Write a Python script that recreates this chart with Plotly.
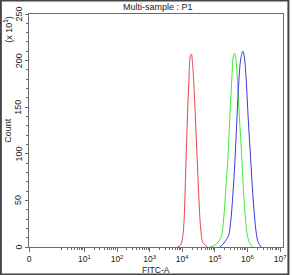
import math
import plotly.graph_objects as go

# x positions in log10(FITC-A) units; counts in units of 10
red_log10 = [3.85, 3.95, 4.00, 4.05, 4.10, 4.15, 4.20, 4.25, 4.28, 4.32, 4.37, 4.42, 4.47, 4.52, 4.57, 4.62, 4.70, 4.78]
red_count = [0, 2, 8, 25, 75, 130, 175, 205, 207, 195, 165, 125, 85, 45, 18, 6, 2, 0]

green_log10 = [4.85, 5.00, 5.10, 5.20, 5.27, 5.33, 5.40, 5.46, 5.52, 5.57, 5.61, 5.65, 5.70, 5.76, 5.82, 5.88, 5.94, 6.00, 6.07, 6.15]
green_count = [0, 2, 5, 12, 30, 60, 95, 140, 180, 205, 208, 200, 175, 135, 100, 60, 30, 12, 4, 0]

blue_log10 = [5.15, 5.25, 5.35, 5.42, 5.48, 5.55, 5.62, 5.68, 5.74, 5.80, 5.86, 5.90, 5.96, 6.02, 6.08, 6.14, 6.20, 6.27, 6.33, 6.42]
blue_count = [0, 3, 8, 12, 25, 55, 95, 140, 180, 203, 210, 205, 180, 140, 105, 70, 40, 15, 5, 0]

x_tick_pos = [-0.70, 1, 2, 3, 4, 5, 6, 7]
x_tick_text = ["0", "10<sup>1</sup>", "10<sup>2</sup>", "10<sup>3</sup>", "10<sup>4</sup>",
               "10<sup>5</sup>", "10<sup>6</sup>", "10<sup>7</sup>"]
y_tick_vals = [0, 50, 100, 150, 200, 250]
y_tick_text = ["0", "50", "100", "150", "200", "250"]

minor_x = []
for dec in range(0, 7):
    for m in range(2, 10):
        v = dec + math.log10(m)
        if v > -0.05:
            minor_x.append(v)

PW, PH = 257, 233  # plot area size in px

fig = go.Figure()
for xs, ys, col in [(red_log10, red_count, "#e4484c"),
                    (green_log10, green_count, "#3ee83a"),
                    (blue_log10, blue_count, "#3a3ad8")]:
    fig.add_trace(go.Scatter(x=xs, y=ys, mode="lines", line=dict(color=col, width=1, shape="spline"),
                             showlegend=False, hoverinfo="skip", cliponaxis=True))

axis_col = "#6a6a6a"
annotations = [dict(text="(x 10<sup>1</sup>)", xref="paper", yref="paper", x=-22 / PW, y=1.0,
                    xanchor="center", yanchor="top", textangle=-90, showarrow=False,
                    font=dict(size=9, color="#222")),
               dict(text="Count", xref="paper", yref="paper", x=-22 / PW, y=0.5,
                    xanchor="center", yanchor="middle", textangle=-90, showarrow=False,
                    font=dict(size=9, color="#222")),
               dict(text="FITC-A", xref="paper", yref="paper", x=0.5, y=-23 / PH,
                    xanchor="center", yanchor="middle", showarrow=False,
                    font=dict(size=8.5, color="#222"))]
for v, t in zip(y_tick_vals, y_tick_text):
    annotations.append(dict(text=t, xref="paper", yref="y", x=-10.5 / PW, y=v,
                            xanchor="center", yanchor="middle", textangle=-90, showarrow=False,
                            font=dict(size=9, color="#222")))

fig.update_layout(
    width=292, height=275,
    margin=dict(l=29, r=6, t=14, b=28),
    paper_bgcolor="white", plot_bgcolor="white",
    font=dict(family="Liberation Sans, Arial, sans-serif", size=9, color="#222"),
    title=dict(text="Multi-sample : P1", x=0.54, xanchor="center", y=0.985, yanchor="top",
               font=dict(size=9, color="#222")),
    xaxis=dict(range=[-0.70, 7.09], tickmode="array", tickvals=x_tick_pos, ticktext=x_tick_text,
               ticks="outside", ticklen=4, tickcolor=axis_col, showgrid=False, zeroline=False,
               showline=True, linecolor=axis_col, linewidth=1, mirror=True, ticklabelstandoff=0,
               minor=dict(tickmode="array", tickvals=minor_x, ticks="outside", ticklen=2, tickcolor=axis_col),
               tickfont=dict(size=8.5)),
    yaxis=dict(range=[0, 250], tickmode="array", tickvals=y_tick_vals, showticklabels=False,
               ticks="outside", ticklen=3, tickcolor=axis_col, showgrid=False, zeroline=False,
               showline=True, linecolor=axis_col, linewidth=1, mirror=True,
               minor=dict(dtick=10, ticks="outside", ticklen=2, tickcolor=axis_col)),
    annotations=annotations,
    shapes=[dict(type="rect", xref="paper", yref="paper",
                 x0=-29 / PW + 0.002, x1=1 + 6 / PW - 0.002, y0=-28 / PH + 0.002, y1=1 + 14 / PH - 0.002,
                 line=dict(color="#444", width=2))],
)

fig.write_html("out.html")
